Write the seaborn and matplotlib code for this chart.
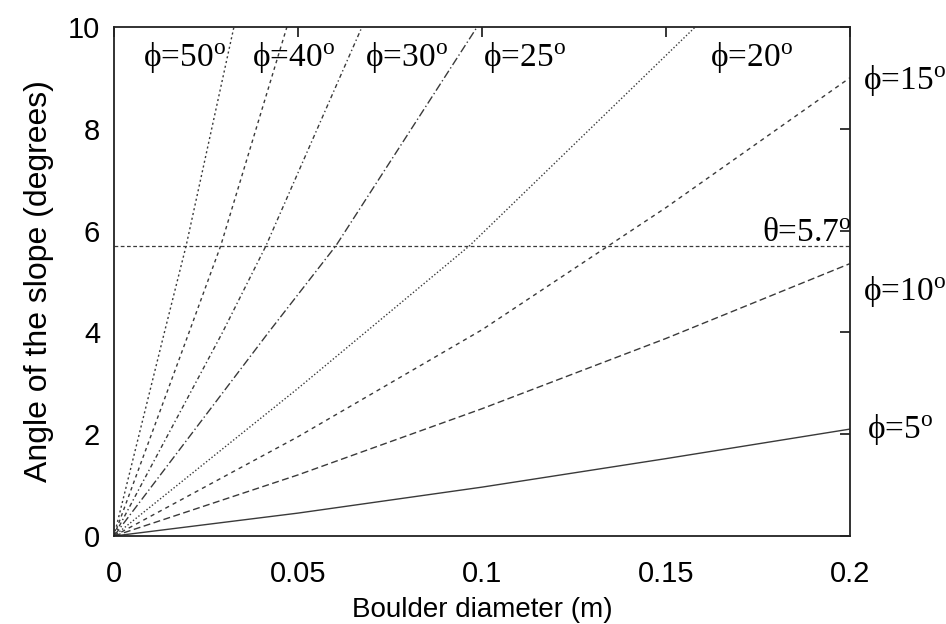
import matplotlib
matplotlib.use("Agg")
import matplotlib.pyplot as plt
import seaborn as sns
import pandas as pd

# ---- data ----
phi_labels = ["5", "10", "15", "20", "25", "30", "40", "50"]

x_phi5 = [0, 0.05, 0.1, 0.15, 0.2]
y_phi5 = [0, 0.45, 0.96, 1.52, 2.1]
x_phi10 = [0, 0.05, 0.1, 0.15, 0.2]
y_phi10 = [0, 1.2, 2.5, 3.88, 5.35]
x_phi15 = [0, 0.05, 0.1, 0.15, 0.2]
y_phi15 = [0, 1.95, 4.05, 6.45, 9.0]
x_phi20 = [0, 0.05, 0.0966, 0.158]
y_phi20 = [0, 2.9, 5.7, 10.0]
x_phi25 = [0, 0.042, 0.0603, 0.0987]
y_phi25 = [0, 4.0, 5.7, 10.0]
x_phi30 = [0, 0.0295, 0.0413, 0.0674]
y_phi30 = [0, 4.0, 5.7, 10.0]
x_phi40 = [0, 0.0204, 0.029, 0.047]
y_phi40 = [0, 4.0, 5.7, 10.0]
x_phi50 = [0, 0.0137, 0.0196, 0.0326]
y_phi50 = [0, 4.0, 5.7, 10.0]

theta_crit = 5.7
x_ticks = [0, 0.05, 0.1, 0.15, 0.2]
x_tick_labels = ["0", "0.05", "0.1", "0.15", "0.2"]
y_ticks = [0, 2, 4, 6, 8, 10]

series_x = [x_phi5, x_phi10, x_phi15, x_phi20, x_phi25, x_phi30, x_phi40, x_phi50]
series_y = [y_phi5, y_phi10, y_phi15, y_phi20, y_phi25, y_phi30, y_phi40, y_phi50]

# ---- styles ----
styles = ["-", (0, (5, 2.5)), (0, (3, 3)), (0, (1, 1.5)),
          (0, (6, 2, 1, 2)), (0, (3, 2, 1, 2)), (0, (2.5, 2.5)), (0, (1.5, 2))]
# label anchor (left, baseline) in data coords
label_pos = [(0.2045, 1.92), (0.2035, 4.63), (0.2035, 8.78), (0.162, 9.24),
             (0.1003, 9.24), (0.0682, 9.24), (0.0375, 9.24), (0.0079, 9.24)]

sns.set_theme(style="white")
plt.rcParams["font.family"] = ["Liberation Sans", "DejaVu Sans"]
plt.rcParams["mathtext.fontset"] = "custom"
plt.rcParams["mathtext.rm"] = "Liberation Serif"
plt.rcParams["mathtext.it"] = "Liberation Serif:italic"
plt.rcParams["text.color"] = "black"
plt.rcParams["axes.labelcolor"] = "black"

fig = plt.figure(figsize=(9.46, 6.24), dpi=100)
ax = fig.add_axes([0.1205, 0.141, 0.778, 0.816])

line_color = "#3a3a3a"
for xs, ys, ls in zip(series_x, series_y, styles):
    df = pd.DataFrame({"d": xs, "a": ys})
    sns.lineplot(data=df, x="d", y="a", ax=ax, color=line_color,
                 linewidth=1.0, linestyle=ls, sort=False, estimator=None)

ax.axhline(theta_crit, color=line_color, linewidth=0.9, linestyle=(0, (3, 2)))

serif = ["Liberation Serif", "DejaVu Serif"]
for lab, (lx, ly) in zip(phi_labels, label_pos):
    ax.text(lx, ly, "\u03d5=" + lab + r"$^{\mathrm{o}}$", family=serif, fontsize=24,
            ha="left", va="baseline", color="black", clip_on=False)
ax.text(0.176, 5.8, "\u03b8=5.7" + r"$^{\mathrm{o}}$", family=serif, fontsize=24,
        ha="left", va="baseline", color="black", clip_on=False)

ax.set_xlim(0, 0.2)
ax.set_ylim(0, 10)
ax.set_xticks(x_ticks)
ax.set_xticklabels(x_tick_labels)
ax.set_yticks(y_ticks)
ax.tick_params(direction="in", length=7, width=1.1, top=True, right=True,
               labelsize=21, colors="black")
ax.tick_params(axis="x", pad=17)
ax.tick_params(axis="y", pad=10)
for s in ax.spines.values():
    s.set_linewidth(1.3)
    s.set_color("#222222")
    s.set_visible(True)
ax.set_xlabel("Boulder diameter (m)", fontsize=20, labelpad=7)
ax.set_ylabel("Angle of the slope (degrees)", fontsize=23, labelpad=10)

fig.savefig("out.png", dpi=100)
